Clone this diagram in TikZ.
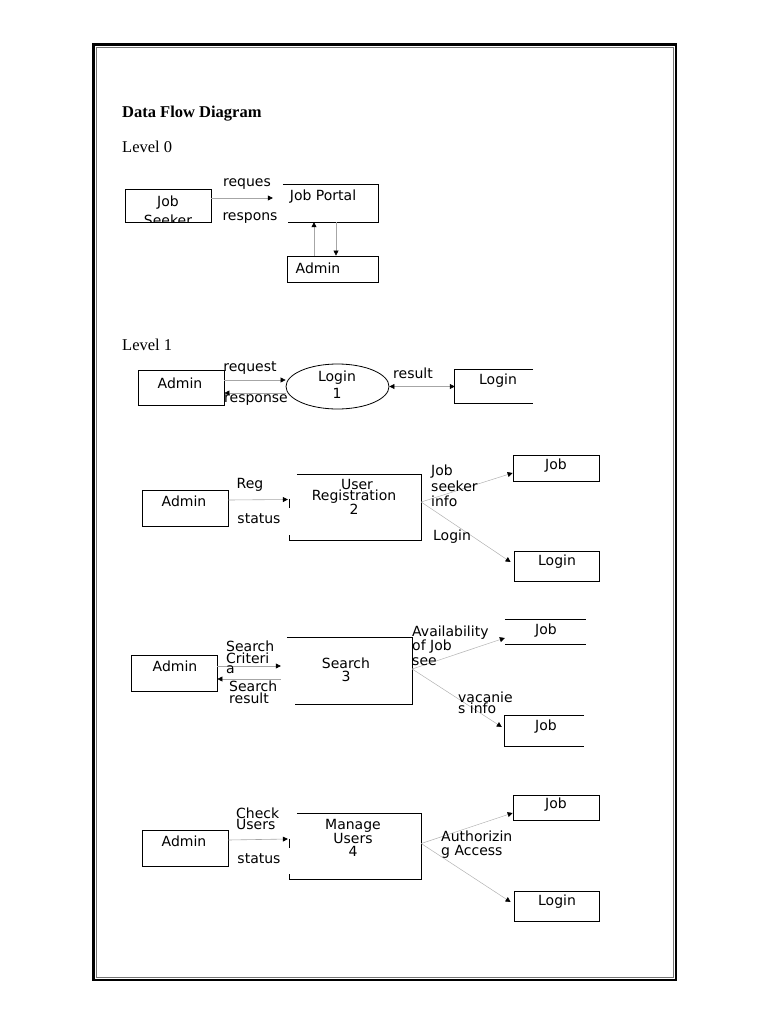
\documentclass[tikz,border=0pt]{standalone}
\usepackage{fontspec}
\setmainfont{DejaVu Sans}
\newfontfamily\serifx{Liberation Serif}
\usetikzlibrary{arrows.meta,shapes.geometric}
\begin{document}
\begin{tikzpicture}[x=1pt,y=-1pt,
  txt/.style={inner sep=0pt, font=\fontsize{14}{11}\selectfont, align=center},
  ltxt/.style={inner sep=0pt, font=\fontsize{14}{11}\selectfont, align=left, anchor=west},
  hd/.style={inner sep=0pt, anchor=west, font=\serifx\fontsize{16.5}{16.5}\selectfont},
  box/.style={draw, line width=0.8pt, inner sep=0pt},
  sbox/.style={inner sep=0pt},
  edge/.style={line width=0.8pt},
  flow/.style={draw=black!35, line width=0.6pt, -{Triangle[length=5pt,width=5pt,color=black]}},
  bflow/.style={draw=black!35, line width=0.6pt, {Triangle[length=5pt,width=5pt,color=black]}-{Triangle[length=5pt,width=5pt,color=black]}}
]
\useasboundingbox (0,0) rectangle (768,1024);
% page frame
\draw[line width=2.6pt] (93.5,44.5) rectangle (676,980);
\draw[line width=0.9pt, black!55] (96.5,47.5) rectangle (673,977);

% headings
\node[hd, font=\serifx\bfseries\fontsize{16.5}{16.5}\selectfont] (title) at (122,114) {Data Flow Diagram};
\node[hd] (lev0) at (122,147) {Level 0};
\node[hd] (lev1) at (122,345) {Level 1};

% ---------- Level 0 ----------
\node[box, minimum width=86, minimum height=33] (js) at (168,205.5) {};
\begin{scope}
  \clip (js.south west) rectangle (js.north east);
  \node[txt, font=\fontsize{14}{19}\selectfont] (jst) at (168,210.5) {Job\\Seeker};
\end{scope}
\node[sbox, minimum width=95, minimum height=37] (jp) at (330.5,203.5) {};
\draw[edge] (jp.north west) -- (jp.north east) -- (jp.south east) -- ([xshift=5pt]jp.south west);
\node[txt] (jpt) at (323,197) {Job Portal};
\node[box, minimum width=91, minimum height=26] (ad0) at (332.5,269) {};
\node[txt] (ad0t) at (318,268) {Admin};

\draw[flow] ([yshift=7.5pt]js.east) -- ([xshift=-10pt,yshift=5.5pt]jp.west);
\node[txt] (l0a) at (247,184) {reques};
\node[txt] (l0b) at (250,218) {respons};
\draw[flow] ([xshift=-18.5pt]ad0.north) -- ([xshift=-16.5pt]jp.south);
\draw[flow] ([xshift=5.5pt]jp.south) -- ([xshift=3.5pt]ad0.north);

% ---------- Level 1: Login ----------
\node[box, minimum width=86, minimum height=35] (ad1) at (181,387.5) {};
\node[txt] (ad1t) at (180,383) {Admin};
\node[ellipse, draw, line width=0.8pt, minimum width=103, minimum height=45, inner sep=0pt] (lg1) at (337.5,386.5) {};
\node[txt, font=\fontsize{14}{17}\selectfont] (lg1t) at (337,384.5) {Login\\1};
\node[sbox, minimum width=78, minimum height=33] (ls1) at (494,386.5) {};
\draw[edge] (ls1.north east) -- (ls1.north west) -- (ls1.south west) -- (ls1.south east);
\node[txt] (ls1t) at (498,381) {Login};

\draw[flow] ([yshift=7.5pt]ad1.east) -- ([yshift=6.5pt]lg1.west);
\draw[flow] ([yshift=-6.5pt]lg1.west) -- ([yshift=-5.5pt]ad1.east);
\draw[bflow] (lg1.east) -- (ls1.west);
\node[txt] (l1a) at (250,368) {request};
\node[txt] (l1b) at (256,400) {response};
\node[txt] (l1c) at (413,373) {result};

% ---------- User Registration ----------
\node[box, minimum width=86, minimum height=36] (ad2) at (185,508) {};
\node[txt] (ad2t) at (184,501) {Admin};
\node[sbox, minimum width=131, minimum height=65] (pr2) at (355.5,507.5) {};
\draw[edge] ([xshift=7pt]pr2.north west) -- (pr2.north east) -- (pr2.south east) -- (pr2.south west) -- ([yshift=5pt]pr2.south west);
\draw[edge] ([yshift=-24pt]pr2.north west) -- ([yshift=-33pt]pr2.north west);
\node[txt] (pr2t) at (354,497) {\hspace*{6pt}User\\Registration\\2};
\node[box, minimum width=86, minimum height=26] (jb2) at (556,468) {};
\node[txt] (jb2t) at (556,466) {Job};
\node[box, minimum width=85, minimum height=30] (lb2) at (556.5,566) {};
\node[txt] (lb2t) at (557,562) {Login};

\draw[flow] ([yshift=8pt]ad2.east) -- ([xshift=-2pt,yshift=8pt]pr2.west);
\draw[flow, draw=black!30, line width=0.5pt] ([yshift=5.5pt]pr2.east) -- ([yshift=-5pt]jb2.west);
\draw[flow, draw=black!30, line width=0.5pt] ([yshift=5.5pt]pr2.east) -- ([xshift=-3pt,yshift=4pt]lb2.west);
\node[txt] (l2a) at (250,485) {Reg};
\node[txt] (l2b) at (259,519) {status};
\node[ltxt, font=\fontsize{14}{15.5}\selectfont] (l2c) at (431,486) {Job\\seeker\\info};
\node[txt] (l2d) at (452,537) {Login};

% ---------- Search ----------
\node[box, minimum width=86, minimum height=36] (ad3) at (174,673) {};
\node[txt] (ad3t) at (175,666) {Admin};
\node[sbox, minimum width=125, minimum height=66] (pr3) at (349.5,671) {};
\draw[edge] (pr3.north west) -- (pr3.north east) -- (pr3.south east) -- ([xshift=8pt]pr3.south west);
\node[txt, font=\fontsize{14}{13}\selectfont] (pr3t) at (346,669.5) {Search\\3};
\node[sbox, minimum width=81, minimum height=24] (s3a) at (545.5,632) {};
\draw[edge] (s3a.north west) -- (s3a.north east);
\draw[edge] (s3a.south west) -- (s3a.south east);
\node[txt] (s3at) at (546,631) {Job};
\node[sbox, minimum width=79, minimum height=30] (s3b) at (544.5,731) {};
\draw[edge] (s3b.north east) -- (s3b.north west) -- (s3b.south west) -- (s3b.south east);
\node[txt] (s3bt) at (546,727) {Job};

\draw[flow] ([yshift=7pt]ad3.east) -- ([xshift=-6pt,yshift=5pt]pr3.west);
\draw[flow] ([xshift=-6pt,yshift=-8pt]pr3.west) -- ([yshift=-6pt]ad3.east);
\draw[flow, draw=black!30, line width=0.5pt] ([yshift=2pt]pr3.east) -- ([yshift=-6pt]s3a.west);
\draw[flow, draw=black!30, line width=0.5pt] ([yshift=2pt]pr3.east) -- ([xshift=-3pt,yshift=4pt]s3b.west);
\node[ltxt, font=\fontsize{14}{10}\selectfont] (l3a) at (226,657) {Search\\Criteri\\a};
\node[ltxt, font=\fontsize{14}{10}\selectfont] (l3b) at (229,692) {Search\\result};
\node[ltxt, font=\fontsize{14}{14.5}\selectfont] (l3c) at (412,645.5) {Availability\\of Job\\see};
\node[ltxt, font=\fontsize{14}{11}\selectfont] (l3d) at (458,702.5) {vacanie\\s info};

% ---------- Manage Users ----------
\node[box, minimum width=86, minimum height=36] (ad4) at (185,848) {};
\node[txt] (ad4t) at (184,841) {Admin};
\node[sbox, minimum width=131, minimum height=65] (pr4) at (355.5,846.5) {};
\draw[edge] ([xshift=7pt]pr4.north west) -- (pr4.north east) -- (pr4.south east) -- (pr4.south west) -- ([yshift=5pt]pr4.south west);
\draw[edge] ([yshift=-25pt]pr4.north west) -- ([yshift=-34pt]pr4.north west);
\node[txt, font=\fontsize{14}{13}\selectfont] (pr4t) at (353,838) {Manage\\Users\\4};
\node[box, minimum width=86, minimum height=25] (jb4) at (556,807.5) {};
\node[txt] (jb4t) at (556,805) {Job};
\node[box, minimum width=85, minimum height=30] (lb4) at (556.5,906) {};
\node[txt] (lb4t) at (557,902) {Login};

\draw[flow] ([yshift=8pt]ad4.east) -- ([xshift=-2pt,yshift=7.5pt]pr4.west);
\draw[flow, draw=black!30, line width=0.5pt] ([yshift=3pt]pr4.east) -- ([yshift=-5.5pt]jb4.west);
\draw[flow, draw=black!30, line width=0.5pt] ([yshift=3pt]pr4.east) -- ([xshift=-3pt,yshift=4pt]lb4.west);
\node[ltxt, font=\fontsize{14}{10}\selectfont] (l4a) at (236,819) {Check\\Users};
\node[txt] (l4b) at (259,859) {status};
\node[ltxt, font=\fontsize{14}{14}\selectfont] (l4c) at (441,845) {Authorizin\\g Access};
\end{tikzpicture}
\end{document}
